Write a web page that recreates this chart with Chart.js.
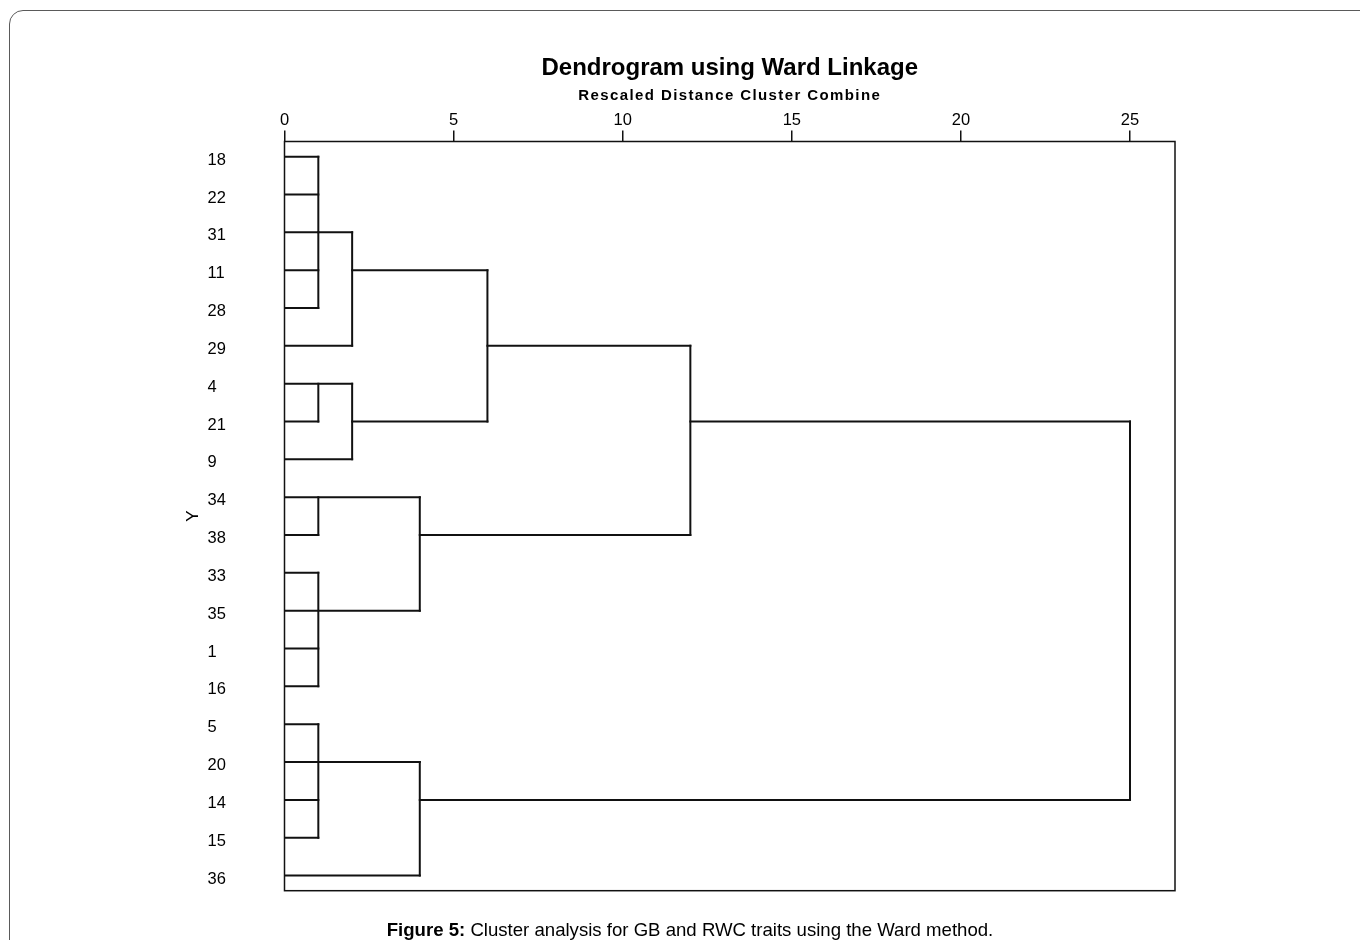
<!DOCTYPE html>
<html>
<head>
<meta charset="utf-8">
<script src="https://cdn.jsdelivr.net/npm/chart.js@4.4.0/dist/chart.umd.min.js"></script>
<style>
html,body{margin:0;padding:0;background:#fff;overflow:hidden;}
#wrap{position:relative;width:1360px;height:940px;overflow:hidden;}
#frame{position:absolute;left:9px;top:10px;width:1400px;height:1000px;border:1px solid #5a5a5a;border-top-left-radius:14px;box-sizing:border-box;}
canvas{position:absolute;left:0;top:0;}
#caption{position:absolute;left:690px;top:920.5px;transform:translateX(-50%);white-space:nowrap;font:18.6px/18.6px 'Liberation Sans',Arial,sans-serif;color:#000;}
</style>
</head>
<body>
<div id="wrap">
  <div id="frame"></div>
  <canvas id="c" width="1360" height="940"></canvas>
  <div id="caption"><b>Figure 5:</b> Cluster analysis for GB and RWC traits using the Ward method.</div>
</div>
<script>
// ---- data ----
const TITLE = 'Dendrogram using Ward Linkage';
const SUBTITLE = 'Rescaled Distance Cluster Combine';
const Y_TITLE = 'Y';
const leaves = ['18','22','31','11','28','29','4','21','9','34','38','33','35','1','16','5','20','14','15','36'];
const xTicks = [0, 5, 10, 15, 20, 25];
// horizontal links: [leaf row, from distance, to distance]
const hLinks = [
  [0,0,1],[1,0,1],[2,0,1],[3,0,1],[4,0,1],
  [2,1,2],[5,0,2],[3,2,6],
  [6,0,2],[7,0,1],[8,0,2],[7,2,6],
  [5,6,12],
  [9,0,4],[10,0,1],[11,0,1],[12,0,4],[13,0,1],[14,0,1],
  [10,4,12],
  [7,12,25],
  [15,0,1],[16,0,4],[17,0,1],[18,0,1],[19,0,4],
  [17,4,25]
];
// vertical links: [distance, from row, to row]
const vLinks = [
  [1,0,4],[2,2,5],[1,6,7],[2,6,8],[6,3,7],[12,5,10],
  [1,9,10],[1,11,14],[4,9,12],[1,15,18],[4,16,19],[25,7,17]
];

// ---- build datasets ----
const lineStyle = {showLine:true, borderColor:'#111', borderWidth:2, pointRadius:0, pointHoverRadius:0, borderCapStyle:'square', fill:false, tension:0};
const datasets = [];
hLinks.forEach(([r,a,b]) => datasets.push(Object.assign({data:[{x:a,y:r},{x:b,y:r}]}, lineStyle)));
vLinks.forEach(([d,r0,r1]) => datasets.push(Object.assign({data:[{x:d,y:r0},{x:d,y:r1}]}, lineStyle)));

Chart.defaults.font.family = "'Liberation Sans', Arial, sans-serif";
Chart.defaults.color = '#000';

const boxPlugin = {
  id:'frameBox',
  afterDatasetsDraw(chart){
    const {ctx, chartArea:a} = chart;
    ctx.save();
    ctx.strokeStyle = '#111';
    ctx.lineWidth = 1.5;
    ctx.strokeRect(a.left, a.top, a.right - a.left, a.bottom - a.top);
    ctx.restore();
  }
};
const spacingPlugin = {
  id:'subSpacing',
  afterLayout(chart){
    chart.boxes.forEach(b => {
      if (b.options && b.options.text === SUBTITLE && !b._spaced) {
        const orig = b.draw.bind(b);
        b.draw = function(area){
          const ctx = chart.ctx;
          ctx.save();
          ctx.letterSpacing = '1.4px';
          orig(area);
          ctx.restore();
        };
        b._spaced = true;
      }
    });
  }
};

new Chart(document.getElementById('c'), {
  type:'scatter',
  data:{datasets},
  plugins:[boxPlugin, spacingPlugin],
  options:{
    responsive:false,
    animation:false,
    events:[],
    layout:{padding:{left:183, right:185, top:0, bottom:49.3}},
    plugins:{
      legend:{display:false},
      tooltip:{enabled:false},
      title:{display:true, text:TITLE, fullSize:false, color:'#000', font:{size:24, weight:'bold'}, padding:{top:53.5, bottom:0.5}},
      subtitle:{display:true, text:SUBTITLE, fullSize:false, color:'#000', font:{size:15, weight:'bold'}, padding:{top:4.3, bottom:0}}
    },
    scales:{
      x:{
        type:'linear', position:'top', min:0, max:26.33,
        afterBuildTicks:s => { s.ticks = xTicks.map(v => ({value:v})); },
        afterFit:s => { s.height = 36.4; },
        ticks:{color:'#000', font:{size:16.5}, padding:0, maxRotation:0, autoSkip:false},
        grid:{display:true, drawOnChartArea:false, drawTicks:true, tickLength:11, color:'#111', lineWidth:1.5},
        border:{display:false}
      },
      y:{
        type:'linear', position:'left', reverse:true, min:-0.4, max:19.4, weight:0,
        afterBuildTicks:s => { s.ticks = leaves.map((_, i) => ({value:i})); },
        afterFit:s => { s.width = 77; },
        ticks:{callback:v => leaves[Math.round(v)], crossAlign:'far', labelOffset:3.5, padding:0, color:'#000', font:{size:16.5}, autoSkip:false},
        grid:{display:false},
        border:{display:false}
      },
      y2:{
        type:'linear', position:'left', weight:1, display:true, min:0, max:1,
        afterFit:s => { s.width = 24.5; },
        ticks:{display:false},
        grid:{display:false},
        border:{display:false},
        title:{display:true, text:Y_TITLE, color:'#000', font:{size:17}, padding:0}
      }
    }
  }
});
</script>
</body>
</html>
